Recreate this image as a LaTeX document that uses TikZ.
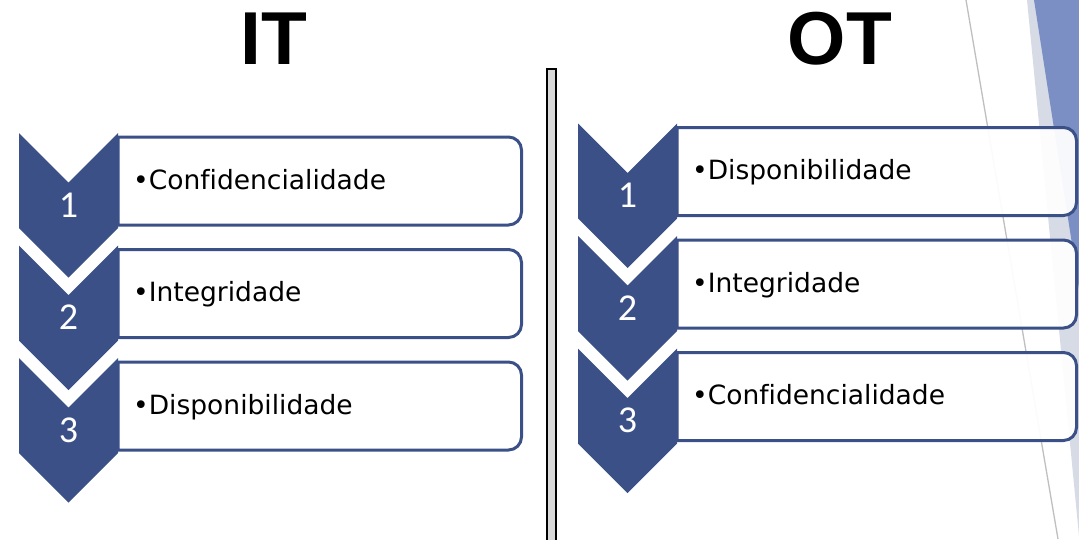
\documentclass[tikz,border=0pt]{standalone}
\usepackage{fontspec}
\setmainfont{DejaVu Sans}[Ligatures=NoCommon]
\newfontfamily\headfont{Liberation Sans}
\newfontfamily\digitfont{Carlito}

\definecolor{chevblue}{HTML}{3A5086}
\definecolor{facetblue}{HTML}{7B8FC5}
\definecolor{facetlight}{HTML}{D6DBE6}
\definecolor{facetline}{HTML}{BFBFBF}
\definecolor{barfill}{HTML}{D9D9D9}

\tikzset{
  headtext/.style={inner sep=0pt, font=\headfont\bfseries\fontsize{75}{80}\selectfont},
  rowbox/.style={draw=chevblue, line width=3pt, fill=white, fill opacity=0.94},
  chevshape/.style={fill=chevblue},
  numlabel/.style={inner sep=0pt, text=white, font=\digitfont\fontsize{38}{42}\selectfont},
  itemlabel/.style={inner sep=0pt, anchor=base west, text=black, font=\fontsize{26.5}{30}\selectfont},
  sepbar/.style={draw=black, line width=2pt, fill=barfill},
  facetrule/.style={draw=facetline, line width=1.3pt}
}

% one list row: #1 name, #2 chevron left x, #3 top y, #4 box right x, #5 number, #6 text
\newcommand{\listrow}[6]{%
  \draw[rowbox] (#2+99,#3+4) -- (#4-13,#3+4)
    arc[start angle=-90, end angle=0, radius=13] -- (#4,#3+79)
    arc[start angle=0, end angle=90, radius=13] -- (#2+99,#3+92) -- cycle;
  \fill[chevshape] (#2,#3) -- (#2+49.5,#3+49.5) -- (#2+99,#3) -- (#2+99,#3+95)
    -- (#2+49.5,#3+144.5) -- (#2,#3+95) -- cycle;
  \node[numlabel] (#1-num) at (#2+49.5,#3+72) {#5};
  \node[itemlabel] (#1-text) at (#2+114,#3+56) {•#6};
}

\begin{document}
\begin{tikzpicture}[x=1pt, y=-1pt]
  \useasboundingbox (0,0) rectangle (1079,539);

  % theme decoration along the right edge
  \fill[facetlight] (1027,0) -- (1079,0) -- (1079,536) -- cycle;
  \fill[facetblue] (1034,0) -- (1079,0) -- (1079,289) -- cycle;
  \draw[facetrule] (966,0) -- (1058,539);

  % headings
  \node[headtext] (it-title) at (274,39) {IT};
  \node[headtext] (ot-title) at (840,39) {OT};

  % divider
  \draw[sepbar] (547,69) rectangle (556,545);

  % IT priorities
  \listrow{it1}{19}{133}{521.5}{1}{Confidencialidade}
  \listrow{it2}{19}{245.5}{521.5}{2}{Integridade}
  \listrow{it3}{19}{358}{521.5}{3}{Disponibilidade}

  % OT priorities
  \listrow{ot1}{578}{123.5}{1076.5}{1}{Disponibilidade}
  \listrow{ot2}{578}{236}{1076.5}{2}{Integridade}
  \listrow{ot3}{578}{348.5}{1076.5}{3}{Confidencialidade}
\end{tikzpicture}
\end{document}
